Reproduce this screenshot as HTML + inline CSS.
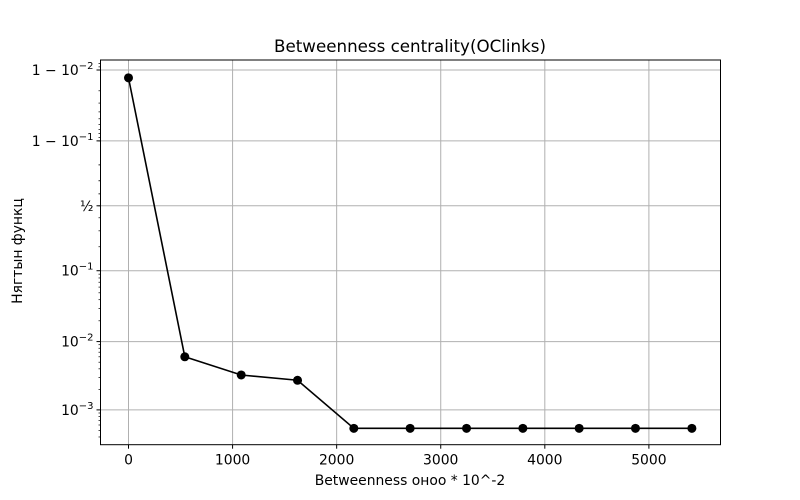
<!DOCTYPE html>
<html><head><meta charset="utf-8"><style>
html,body{margin:0;padding:0;background:#fff;}
svg{display:block;font-family:"DejaVu Sans","Liberation Sans",sans-serif;}
</style></head><body>
<svg id="chart" width="800" height="500" viewBox="0 0 800 500">
<rect width="800" height="500" fill="#fff"/>
<text x="410" y="52" text-anchor="middle" font-size="16.7">Betweenness centrality(OClinks)</text>
<text x="410" y="485" text-anchor="middle" font-size="13.9">Betweenness оноо * 10^-2</text>
<text transform="translate(22,251) rotate(-90)" text-anchor="middle" font-size="13.9">Нягтын функц</text>
<g id="grid"></g><g id="ticks"></g><g id="series"></g>
<rect x="100.5" y="60" width="620" height="384.7" fill="none" stroke="#000" stroke-width="1"/>
</svg>
<script>
const xValues = [0, 541, 1083, 1624, 2165, 2706, 3248, 3789, 4330, 4871, 5413];
const yValues = [0.987, 0.0060, 0.00325, 0.00272, 0.000536, 0.000536, 0.000536, 0.000536, 0.000536, 0.000536, 0.000536];
const xTicks = [0, 1000, 2000, 3000, 4000, 5000];
const yTickValues = [0.99, 0.9, 0.5, 0.1, 0.01, 0.001];
const yTickLabels = [["1 − 10","−2"],["1 − 10","−1"],["½",""],["10","−1"],["10","−2"],["10","−3"]];

const NS = "http://www.w3.org/2000/svg";
const L = 100.5, R = 720.5, T = 60, B = 444.7;
const xMin = -269, xMax = 5688;
const lgMin = -8.085, lgMax = 4.934;
function xs(v){ return L + (v - xMin) / (xMax - xMin) * (R - L); }
function logit(p){ return Math.log(p / (1 - p)); }
function ys(p){ return B - (logit(p) - lgMin) / (lgMax - lgMin) * (B - T); }
function mk(tag, attrs, parent){ const e = document.createElementNS(NS, tag); for (const k in attrs) e.setAttribute(k, attrs[k]); parent.appendChild(e); return e; }

const grid = document.getElementById('grid'), ticks = document.getElementById('ticks'), series = document.getElementById('series');

xTicks.forEach(v => {
  const x = xs(v);
  const g = mk('line', {x1:x, x2:x, y1:T, y2:B, stroke:'#b0b0b0', 'stroke-width':1}, grid);
  
  
  mk('line', {x1:x, x2:x, y1:B, y2:B+4, stroke:'#000'}, ticks);
  const t = mk('text', {x:x, y:B+20, 'text-anchor':'middle', 'font-size':13.9}, ticks);
  t.textContent = v;
  
  
});

const minorP = [];
for (let k = 1; k <= 4; k++) { const d = Math.pow(10, -k); for (let m = 2; m <= 9; m++) { minorP.push(m * d); if (k >= 2) minorP.push(1 - m * d); } }
minorP.push(0.6, 0.7, 0.8);
minorP.forEach(p => {
  const y = ys(p);
  if (y > T && y < B) mk('line', {x1:L-2, x2:L, y1:y, y2:y, stroke:'#000', 'stroke-width':0.7}, ticks);
});

yTickValues.forEach((p, i) => {
  const y = ys(p);
  const g = mk('line', {x1:L, x2:R, y1:y, y2:y, stroke:'#b0b0b0', 'stroke-width':1}, grid);
  
  
  mk('line', {x1:L-4, x2:L, y1:y, y2:y, stroke:'#000'}, ticks);
  const t = mk('text', {x:L-7, y:y+5, 'text-anchor':'end', 'font-size':13.9}, ticks);
  const lab = yTickLabels[i];
  if (lab[1] === '') { t.textContent = lab[0]; }
  else {
    const a = mk('tspan', {}, t); a.textContent = lab[0];
    const b = mk('tspan', {dy:-6, 'font-size':10}, t); b.textContent = lab[1];
  }
  
  
});

const pts = xValues.map((v, i) => xs(v) + ',' + ys(yValues[i])).join(' ');
const line = mk('polyline', {points:pts, fill:'none', stroke:'#000', 'stroke-width':1.6}, series);


xValues.forEach((v, i) => {
  const c = mk('circle', {cx:xs(v), cy:ys(yValues[i]), r:4.5, fill:'#000'}, series);
  
  
});
</script>
</body></html>
